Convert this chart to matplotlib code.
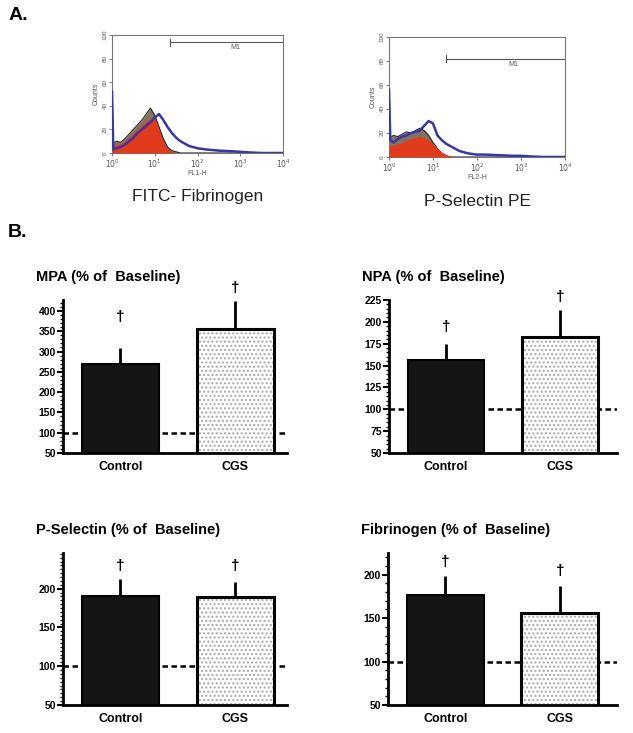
import numpy as np
import matplotlib
matplotlib.use('Agg')
import matplotlib.pyplot as plt
from matplotlib.ticker import MultipleLocator

plt.rcParams['font.family'] = ['Liberation Sans', 'DejaVu Sans']

# ---- Panel A: flow cytometry histograms (log10 of fluorescence, counts) ----
fib_log = [0, 0.03, 0.1, 0.2, 0.3, 0.4, 0.5, 0.6, 0.7, 0.8, 0.9, 1.0, 1.1, 1.2, 1.3,
           1.4, 1.5, 1.6, 1.8, 2.0, 2.2, 2.5, 2.8, 3.0, 3.2, 3.5, 4.0]
fib_gray = [8, 8, 10, 9, 12, 16, 20, 24, 28, 33, 38, 32, 22, 12, 5,
            2, 1, 0, 0, 0, 0, 0, 0, 0, 0, 0, 0]
fib_red = [6, 6, 7, 8, 10, 13, 17, 20, 24, 27, 29, 30, 20, 10, 3,
           1, 0, 0, 0, 0, 0, 0, 0, 0, 0, 0, 0]
fib_blue = [52, 3, 4, 5, 7, 10, 13, 17, 20, 23, 26, 30, 33, 28, 22,
            17, 13, 10, 6, 4, 3, 2, 1.5, 1, 0.5, 0, 0]

ps_log = fib_log
ps_gray = [16, 16, 18, 17, 19, 21, 20, 22, 24, 22, 18, 12, 7, 3, 1,
           0, 0, 0, 0, 0, 0, 0, 0, 0, 0, 0, 0]
ps_red = [9, 9, 10, 11, 12, 14, 15, 16, 17, 16, 14, 11, 7, 4, 2,
          0.5, 0, 0, 0, 0, 0, 0, 0, 0, 0, 0, 0]
ps_blue = [56, 14, 12, 15, 17, 18, 20, 21, 22, 26, 30, 28, 18, 14, 11,
           9, 7, 5, 3, 2, 2, 1.5, 1, 1, 0.5, 0, 0]

# ---- Panel B: % of baseline ----
groups = ['Control', 'CGS']
mpa_mean = [270, 356]
mpa_err = [39, 69]
npa_mean = [156, 183]
npa_err = [19, 30]
psel_mean = [191, 189]
psel_err = [21, 20]
fibr_mean = [177, 156]
fibr_err = [22, 31]

fig = plt.figure(figsize=(6.33, 7.33), dpi=100)
W, H = 633.0, 733.0


def px_axes(x0, y0, x1, y1):
    return fig.add_axes([x0 / W, 1 - y1 / H, (x1 - x0) / W, (y1 - y0) / H])


def histo(ax, logs, gray, red, blue, xlab, title, m1_start, m1_y, m1_lab):
    x = 10 ** np.array(logs)
    ax.fill_between(x, gray, color='#86705e', lw=0, zorder=1)
    ax.plot(x, gray, color='#222222', lw=0.8, zorder=2)
    ax.fill_between(x, red, color='#e23b1c', lw=0, zorder=3)
    ax.plot(x, blue, color='#3636a6', lw=1.8, zorder=4)
    ax.set_xscale('log')
    ax.set_xlim(1, 1e4)
    ax.set_ylim(0, 100)
    ax.set_yticks([0, 20, 40, 60, 80, 100])
    ax.set_yticklabels(['0', '20', '40', '60', '80', '100'], rotation=90,
                       va='center', fontsize=4.5, color='#555555')
    ax.set_xticks([1, 10, 100, 1000, 10000])
    ax.set_xticklabels([r'$10^0$', r'$10^1$', r'$10^2$', r'$10^3$', r'$10^4$'],
                       fontsize=5.5, color='#555555')
    ax.minorticks_off()
    ax.tick_params(length=2, width=0.6, color='#666666', pad=1)
    for s in ax.spines.values():
        s.set_color('#777777')
        s.set_linewidth(0.8)
    ax.set_ylabel('Counts', fontsize=5, color='#555555', labelpad=2)
    ax.set_xlabel(xlab, fontsize=5, color='#555555', labelpad=0)
    ax.plot([m1_start, 1e4], [m1_y, m1_y], color='#555555', lw=0.8)
    ax.plot([m1_start, m1_start], [m1_y - 3, m1_y + 3], color='#555555', lw=0.8)
    ax.text(m1_lab, m1_y - 6, 'M1', fontsize=5, color='#555555', ha='center')
    ax.text(0.5, -0.37, title, transform=ax.transAxes, ha='center', va='center',
            fontsize=12.5, color='#222222')


ax1 = px_axes(112, 35, 283, 153)
histo(ax1, fib_log, fib_gray, fib_red, fib_blue, 'FL1-H', 'FITC- Fibrinogen', 23, 94, 750)
ax2 = px_axes(389, 37, 565, 157)
histo(ax2, ps_log, ps_gray, ps_red, ps_blue, 'FL2-H', 'P-Selectin PE', 20, 82, 660)


def bars(ax, means, errs, ylim, major, minor, dag_y, title, xmax):
    xs = np.arange(len(groups))
    ax.axhline(100, color='black', lw=1.8, ls=(0, (2.2, 1.4)), zorder=0)
    ax.bar(xs[0], means[0], width=0.67, color='#151515', edgecolor='black', lw=1.5, zorder=2)
    ax.bar(xs[1], means[1], width=0.67, color='white', edgecolor='#a8a8a8',
           hatch='....', lw=0, zorder=2)
    ax.bar(xs[1], means[1], width=0.67, fill=False, edgecolor='black', lw=2.2, zorder=3)
    ax.errorbar(xs, means, yerr=[[0, 0], errs], fmt='none', ecolor='black',
                elinewidth=2, capsize=0, zorder=1)
    for x, d in zip(xs, dag_y):
        ax.text(x, d, '\u2020', ha='center', va='center', fontsize=11,
                fontweight='bold', clip_on=False)
    ax.set_xlim(-0.5, xmax)
    ax.set_ylim(*ylim)
    ax.yaxis.set_major_locator(MultipleLocator(major))
    ax.yaxis.set_minor_locator(MultipleLocator(minor))
    ax.set_xticks(xs)
    ax.set_xticklabels(groups, fontsize=9, fontweight='bold')
    ax.tick_params(axis='x', length=0, pad=6)
    ax.tick_params(axis='y', which='major', length=4, width=1.5, labelsize=7.5, pad=1)
    ax.tick_params(axis='y', which='minor', length=2.5, width=1)
    for lab in ax.get_yticklabels():
        lab.set_fontweight('bold')
    ax.spines['top'].set_visible(False)
    ax.spines['right'].set_visible(False)
    ax.spines['left'].set_linewidth(2)
    ax.spines['bottom'].set_linewidth(2)
    ax.set_title(title, loc='left', fontsize=10.5, fontweight='bold', x=-0.12, y=1.07)


ax3 = px_axes(63, 300, 287, 453)
bars(ax3, mpa_mean, mpa_err, (50, 427), 50, 10, [385, 457], 'MPA (% of  Baseline)', 1.45)
ax4 = px_axes(389, 300, 617, 453)
bars(ax4, npa_mean, npa_err, (50, 225), 25, 5, [194, 228], 'NPA (% of  Baseline)', 1.5)
ax5 = px_axes(63, 553, 287, 705)
bars(ax5, psel_mean, psel_err, (50, 246), 50, 5, [229, 229], 'P-Selectin (% of  Baseline)', 1.45)
ax6 = px_axes(388, 553, 617, 705)
bars(ax6, fibr_mean, fibr_err, (50, 225), 50, 10, [215, 204.5], 'Fibrinogen (% of  Baseline)', 1.5)

fig.text(9 / W, 1 - 16 / H, 'A.', fontsize=14, fontweight='bold', va='center')
fig.text(8 / W, 1 - 232 / H, 'B.', fontsize=14, fontweight='bold', va='center')

fig.savefig('out.png', dpi=100)
